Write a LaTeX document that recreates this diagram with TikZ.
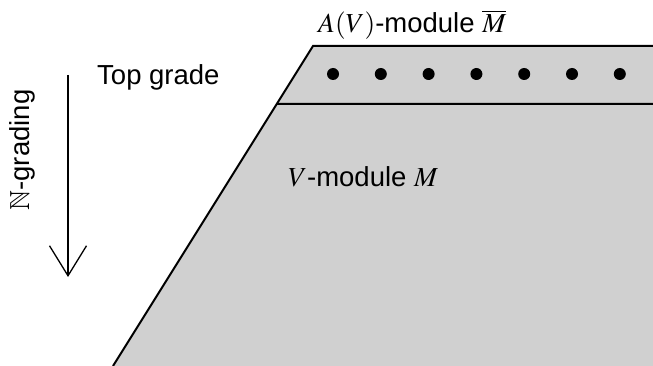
\documentclass[tikz,border=0pt]{standalone}
\usepackage{amssymb}
\usepackage{mathptmx}
\usepackage{fontspec}
\setmainfont{Liberation Sans}
\usepackage{tikz}
\usetikzlibrary{arrows.meta,calc,positioning}
\definecolor{ModGray}{RGB}{208,208,208}

\begin{document}
\begin{tikzpicture}[x=1pt,y=-1pt,>={Straight Barb[length=30pt,width=37pt,line width=1.3pt]},
    lbl/.style={inner sep=0pt,anchor=base west}]
  \useasboundingbox (0,0) rectangle (653,366);
  \fontsize{27.5}{33}\selectfont
  \coordinate (T) at (313,46);
  \coordinate (B) at (113,366);
  \coordinate (L) at ($(T)!58/320!(B)$);
  \fill[ModGray] (T)--(653,46)--(653,366)--(B)--cycle;
  \draw[line width=2pt] (B)--(T)--(653,46);
  \draw[line width=2pt] (L)--(653,104);
  \foreach \i in {0,...,6}
    \fill (333+47.8*\i,74) circle (6pt);
  \node[lbl] (top) at (318,33) {$A(V)$-module $\overline{M}$};
  \node[lbl] (mod) at (288,187) {$V$-module $M$};
  \node[lbl] (grade) at (97,85) {Top grade};
  \coordinate (S) at (68,75);
  \coordinate (E) at (68,277);
  \draw[->,line width=1.3pt] (S)--(E);
  \node[rotate=90,inner sep=0pt] (grad) at (22,150) {$\mathbb{N}$-grading};
\end{tikzpicture}
\end{document}
